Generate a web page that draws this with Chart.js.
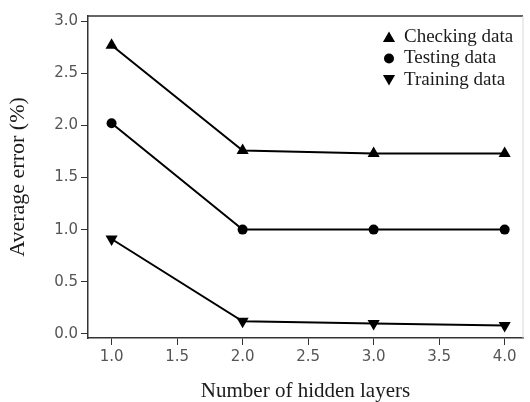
<!DOCTYPE html>
<html>
<head>
<meta charset="utf-8">
<script src="https://cdn.jsdelivr.net/npm/chart.js@4.4.1/dist/chart.umd.min.js"></script>
<style>
  html, body { margin: 0; padding: 0; background: #fff; }
  canvas { display: block; }
</style>
</head>
<body>
<canvas id="err-chart" width="530" height="402"></canvas>
<script>
// values
const hiddenLayers = [1, 2, 3, 4];
const checkingErr = [2.77, 1.76, 1.73, 1.73];
const testingErr = [2.02, 1.00, 1.00, 1.00];
const trainingErr = [0.91, 0.12, 0.10, 0.08];

const serif = '"Liberation Serif", "Times New Roman", serif';
const sans = '"DejaVu Sans", Verdana, sans-serif';

function toPoints(vals) {
    return hiddenLayers.map((x, i) => ({ x: x, y: vals[i] }));
}

function series(label, vals, style, radius, rotation) {
    return {
        label: label,
        data: toPoints(vals),
        borderColor: '#000',
        backgroundColor: '#000',
        borderWidth: 2,
        pointStyle: style,
        pointRadius: radius,
        pointRotation: rotation,
        pointBorderWidth: 0,
        pointBackgroundColor: '#000',
        fill: false,
        tension: 0
    };
}

// top + right edges of the plot box
const frame = {
    id: 'frame',
    afterDraw(chart) {
        const { ctx, chartArea: a } = chart;
        ctx.save();
        ctx.lineWidth = 1.5;
        ctx.strokeStyle = '#333';
        ctx.beginPath();
        ctx.moveTo(a.left, a.top);
        ctx.lineTo(a.right, a.top);
        ctx.stroke();
        ctx.lineWidth = 1;
        ctx.strokeStyle = '#d8d8d8';
        ctx.beginPath();
        ctx.moveTo(a.right, a.top);
        ctx.lineTo(a.right, a.bottom);
        ctx.stroke();
        ctx.restore();
    }
};

// legend sitting inside the plot, top right
const innerLegend = {
    id: 'innerLegend',
    afterDatasetsDraw(chart) {
        const ctx = chart.ctx;
        const mx = 389, tx = 404, y0 = 37, step = 21.5;
        ctx.save();
        ctx.font = '19px ' + serif;
        ctx.textBaseline = 'middle';
        chart.data.datasets.forEach((ds, i) => {
            const y = y0 + i * step;
            ctx.fillStyle = '#000';
            Chart.helpers.drawPoint(ctx, {
                pointStyle: ds.pointStyle,
                radius: ds.pointRadius,
                rotation: ds.pointRotation,
                borderWidth: 0
            }, mx, y + (ds.pointStyle === 'triangle' ? (ds.pointRotation ? -1.5 : 1.5) : 0));
            ctx.fillStyle = '#1a1a1a';
            ctx.fillText(ds.label, tx, y);
        });
        ctx.restore();
    }
};

const ctx = document.getElementById('err-chart').getContext('2d');

const config = {
    type: 'line',
    data: {
        datasets: [
            series('Checking data', checkingErr, 'triangle', 7, 0),
            series('Testing data', testingErr, 'circle', 5, 0),
            series('Training data', trainingErr, 'triangle', 7, 180)
        ]
    },
    options: {
        responsive: false,
        animation: false,
        devicePixelRatio: 1,
        layout: { padding: { top: 16, right: 2, left: 0, bottom: 0 } },
        plugins: {
            legend: { display: false },
            tooltip: { enabled: false }
        },
        scales: {
            x: {
                type: 'linear',
                min: 0.82,
                max: 4.14,
                afterFit(scale) { scale.height = 64; },
                grid: { drawOnChartArea: false, drawTicks: true, tickLength: 7, color: '#333', lineWidth: 1 },
                border: { display: true, color: '#333', width: 1.5 },
                ticks: {
                    stepSize: 0.5,
                    includeBounds: false,
                    padding: 3,
                    color: '#555',
                    font: { family: sans, size: 15 },
                    callback: v => v.toFixed(1)
                },
                title: {
                    display: true,
                    text: 'Number of hidden layers',
                    color: '#1a1a1a',
                    font: { family: serif, size: 21, lineHeight: 1 },
                    padding: { top: 0, bottom: 0 }
                }
            },
            y: {
                min: -0.04,
                max: 3.05,
                afterFit(scale) { scale.width = 88; },
                grid: { drawOnChartArea: false, drawTicks: true, tickLength: 7, color: '#333', lineWidth: 1 },
                border: { display: true, color: '#333', width: 1.5 },
                ticks: {
                    stepSize: 0.5,
                    includeBounds: false,
                    padding: 3,
                    color: '#555',
                    font: { family: sans, size: 15 },
                    callback: v => v.toFixed(1)
                },
                title: {
                    display: true,
                    text: 'Average error (%)',
                    color: '#1a1a1a',
                    font: { family: serif, size: 22, lineHeight: 1.1 },
                    padding: { top: 6, bottom: 0 }
                }
            }
        }
    },
    plugins: [frame, innerLegend]
};

const errChart = new Chart(ctx, config);
</script>
</body>
</html>
